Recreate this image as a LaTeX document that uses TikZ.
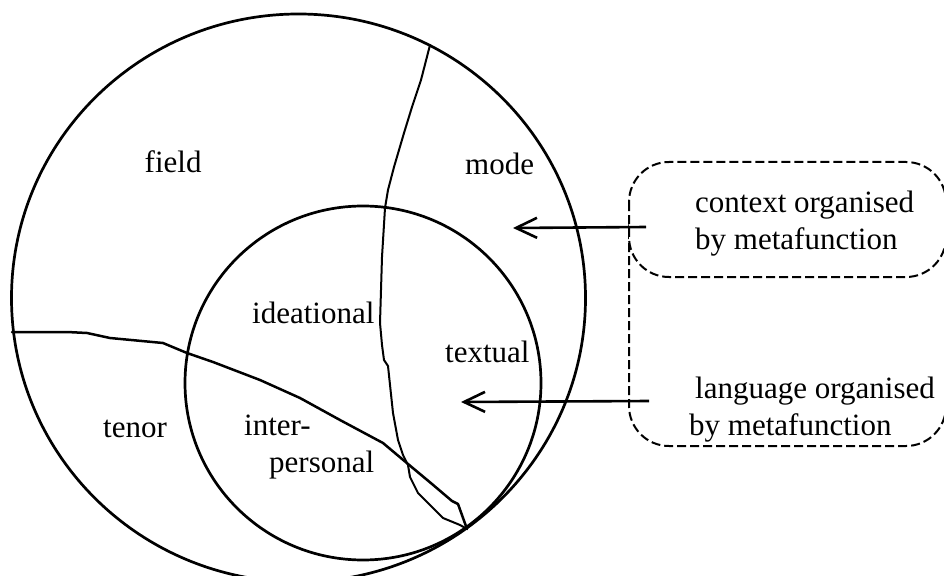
\documentclass[tikz,border=0pt]{standalone}
\usepackage{fontspec}
\setmainfont{Liberation Serif}
\usetikzlibrary{arrows.meta}
\begin{document}
\begin{tikzpicture}[x=1bp,y=-1bp,
  lbl/.style={anchor=base west, inner sep=0pt, font=\fontsize{31bp}{36bp}\selectfont},
  ring/.style={line width=2.7bp},
  border/.style={line width=2bp, line join=round, line cap=round},
  dbox/.style={dash pattern=on 9bp off 4bp, line width=2bp, rounded corners=40bp},
  pointer/.style={line width=2.6bp, -{Straight Barb[length=21bp,width=20bp,line width=2.6bp]}}]
\useasboundingbox (0,0) rectangle (944,576);
\clip (0,0) rectangle (944,576);
\fill[white] (0,0) rectangle (944,576);

% circles
\draw[ring] (298.5,298) ellipse [x radius=287bp, y radius=284bp];
\draw[ring] (363,383) ellipse [x radius=178bp, y radius=177bp];

% boundaries
\draw[border, line width=2bp] (430,45) -- (421,80) -- (412,107) -- (404,133) -- (394,167) -- (388,190)
  -- (385,208) -- (382,257) -- (380,323) -- (382,345) -- (384,360) -- (388,366) -- (393,413)
  -- (398,440) -- (403,455) -- (408,465) -- (410,477) -- (418,493) -- (443,518) -- (460,525) -- (467,529);
\draw[border, line width=2.5bp] (12,332) -- (67,332) -- (87,333) -- (110,338) -- (163,343) -- (187,353)
  -- (213,362) -- (260,380) -- (300,398) -- (340,420) -- (383,443) -- (408,464) -- (432,484)
  -- (452,501) -- (458,504) -- (467,529);

% dashed boxes
\draw[dbox] (629,190) rectangle (946,446);
\draw[dbox, fill=white] (629,162) rectangle (946,277);

% labels
\node[lbl] (field) at (144.5,173) {field};
\node[lbl] (mode) at (465,175) {mode};
\node[lbl] (ideational) at (252,323) {ideational};
\node[lbl] (textual) at (445,362) {textual};
\node[lbl] (tenor) at (103,437) {tenor};
\node[lbl] (inter) at (244,435) {inter-};
\node[lbl] (personal) at (269,472) {personal};
\node[lbl] (ctx1) at (695,213) {context organised};
\node[lbl] (ctx2) at (695,250) {by metafunction};
\node[lbl] (lang1) at (695,398) {language organised};
\node[lbl] (lang2) at (689,435) {by metafunction};

% arrows
\coordinate (a1s) at (646,227);
\coordinate (a1t) at (513,228);
\coordinate (a2s) at (649,401);
\coordinate (a2t) at (461,402);
\draw[pointer] (a1s) -- (a1t);
\draw[pointer] (a2s) -- (a2t);
\end{tikzpicture}
\end{document}
